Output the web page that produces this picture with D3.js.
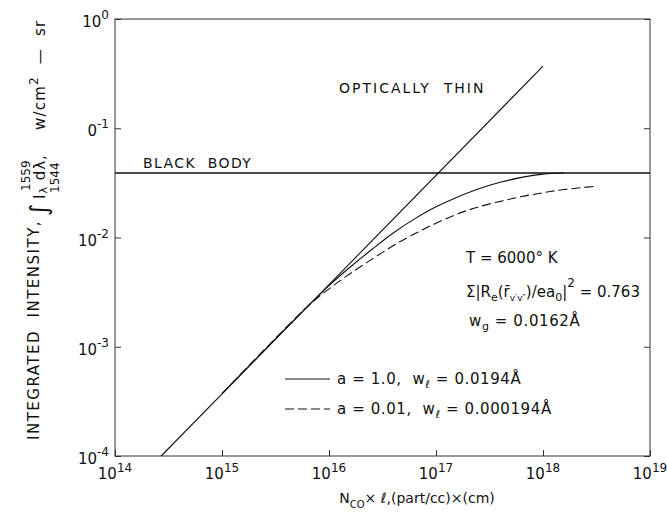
<!DOCTYPE html>
<html>
<head>
<meta charset="utf-8">
<script src="https://cdn.jsdelivr.net/npm/d3@7"></script>
<style>
  body { margin: 0; background: #fff; }
  svg { font-family: "DejaVu Sans", sans-serif; }
  text { white-space: pre; fill: #111; }
</style>
</head>
<body>
<div id="chart"></div>
<script>
// axis ticks (decades)
const xTicks = [1e14, 1e15, 1e16, 1e17, 1e18, 1e19];
const xTickExp = ["14", "15", "16", "17", "18", "19"];
const yTicks = [1e0, 1e-1, 1e-2, 1e-3, 1e-4];
const yTickExp = ["0", "-1", "-2", "-3", "-4"];

// optically thin asymptote
const thinN = [2.7e14, 1e18];
const thinI = [1e-4, 0.37];

// black body limit
const bbN = [1e14, 1e19];
const bbI = [0.039, 0.039];

// a = 1.0 (solid)
const solidN = [1e15, 6.31e15, 1e16, 1.58e16, 2.51e16, 3.98e16, 6.31e16, 1e17, 1.58e17, 2.51e17, 3.98e17, 6.31e17, 1e18, 1.58e18];
const solidI = [3.72e-4, 2.34e-3, 3.63e-3, 5.37e-3, 7.76e-3, 1.10e-2, 1.48e-2, 1.91e-2, 2.34e-2, 2.79e-2, 3.20e-2, 3.55e-2, 3.80e-2, 3.89e-2];

// a = 0.01 (dashed)
const dashN = [1e15, 6.31e15, 1e16, 1.58e16, 2.51e16, 3.98e16, 6.31e16, 1e17, 1.58e17, 2.51e17, 3.98e17, 6.31e17, 1e18, 1.58e18, 3.16e18];
const dashI = [3.72e-4, 2.34e-3, 3.39e-3, 4.68e-3, 6.31e-3, 8.41e-3, 1.08e-2, 1.35e-2, 1.64e-2, 1.91e-2, 2.14e-2, 2.37e-2, 2.57e-2, 2.75e-2, 2.95e-2];

var margin = {top: 19, right: 17, bottom: 59, left: 115},
    W = 667, H = 515,
    width = W - margin.left - margin.right,
    height = H - margin.top - margin.bottom;

var root = d3.select("#chart").append("svg")
  .attr("width", W).attr("height", H);

var svg = root.append("g")
  .attr("transform", "translate(" + margin.left + "," + margin.top + ")");

var x = d3.scaleLog().domain([1e14, 1e19]).range([0, width]);
var y = d3.scaleLog().domain([1e-4, 1e0]).range([height, 0]);

function zip(a, b) {
  return a.map(function(v, i) { return [v, b[i]]; });
}

// frame
svg.append("rect")
  .attr("width", width).attr("height", height)
  .attr("fill", "none").attr("stroke", "#333").attr("stroke-width", 1);

// inward ticks
svg.append("g").attr("transform", `translate(0, ${height})`)
  .call(d3.axisBottom(x).tickValues(xTicks).tickSize(-6).tickFormat(""))
  .call(g => g.select(".domain").remove());
svg.append("g")
  .call(d3.axisLeft(y).tickValues(yTicks).tickSize(-6).tickFormat(""))
  .call(g => g.select(".domain").remove());
svg.append("g").attr("transform", `translate(${width}, 0)`)
  .call(d3.axisRight(y).tickValues(yTicks).tickSize(-6).tickFormat(""))
  .call(g => g.select(".domain").remove());
svg.selectAll(".tick line").attr("stroke", "#333");

// tick labels
xTicks.forEach(function(v, i) {
  var t = svg.append("text")
    .attr("x", x(v)).attr("y", height + 23)
    .attr("text-anchor", "middle")
    .style("font-size", "15px");
  t.append("tspan").text("10");
  t.append("tspan").attr("dy", -7).style("font-size", "12px").text(xTickExp[i]);
});
yTicks.forEach(function(v, i) {
  var t = svg.append("text")
    .attr("x", -6).attr("y", y(v) + 8)
    .attr("text-anchor", "end")
    .style("font-size", "15px");
  t.append("tspan").text(i == 1 ? "0" : "10");
  t.append("tspan").attr("dy", -8).style("font-size", "12px").text(yTickExp[i]);
});

var line = d3.line()
  .x(d => x(d[0]))
  .y(d => y(d[1]));

var smooth = d3.line()
  .x(d => x(d[0]))
  .y(d => y(d[1]))
  .curve(d3.curveCatmullRom);

svg.append("path").datum(zip(bbN, bbI))
  .attr("d", line).attr("fill", "none")
  .attr("stroke", "#111").attr("stroke-width", 1.6);

svg.append("path").datum(zip(thinN, thinI))
  .attr("d", line).attr("fill", "none")
  .attr("stroke", "#111").attr("stroke-width", 1.1);

svg.append("path").datum(zip(solidN, solidI))
  .attr("d", smooth).attr("fill", "none")
  .attr("stroke", "#111").attr("stroke-width", 1.1);

svg.append("path").datum(zip(dashN, dashI))
  .attr("d", smooth).attr("fill", "none")
  .attr("stroke", "#111").attr("stroke-width", 1.1)
  .attr("stroke-dasharray", "9,4");

// labels in the plot
root.append("text").attr("x", 339).attr("y", 93)
  .style("font-size", "14px").style("letter-spacing", "2px")
  .text("OPTICALLY  THIN");
root.append("text").attr("x", 143).attr("y", 168)
  .style("font-size", "14px").style("letter-spacing", "1.4px")
  .text("BLACK  BODY");

root.append("text").attr("x", 466).attr("y", 263)
  .style("font-size", "15px").text("T = 6000° K");

var s = root.append("text").attr("x", 466).attr("y", 297).style("font-size", "15px");
s.append("tspan").text("Σ|R");
s.append("tspan").attr("dy", 4).style("font-size", "11px").text("e");
s.append("tspan").attr("dy", -4).text("(r̄");
s.append("tspan").attr("dy", 4).style("font-size", "9px").text("v′v″");
s.append("tspan").attr("dy", -4).text(")/ea");
s.append("tspan").attr("dy", 4).style("font-size", "11px").text("0");
s.append("tspan").attr("dy", -4).text("|");
s.append("tspan").attr("dy", -10).style("font-size", "12px").text("2");
s.append("tspan").attr("dy", 10).text(" = 0.763");

var wg = root.append("text").attr("x", 469).attr("y", 326)
  .style("font-size", "15px").style("letter-spacing", "0.6px");
wg.append("tspan").text("w");
wg.append("tspan").attr("dy", 4).style("font-size", "11px").text("g");
wg.append("tspan").attr("dy", -4).text(" = 0.0162Å");

// legend
const legendRows = [
  {dash: null, a: "a = 1.0,  w", w: "= 0.0194Å", y: 384},
  {dash: "9,4", a: "a = 0.01,  w", w: "= 0.000194Å", y: 414}
];
legendRows.forEach(function(r) {
  root.append("line")
    .attr("x1", 285).attr("x2", 330).attr("y1", r.y - 5).attr("y2", r.y - 5)
    .attr("stroke", "#111").attr("stroke-width", 1.1)
    .attr("stroke-dasharray", r.dash);
  var t = root.append("text").attr("x", 337).attr("y", r.y)
    .style("font-size", "15px").style("letter-spacing", "0.6px");
  t.append("tspan").text(r.a);
  t.append("tspan").attr("dy", 4).style("font-size", "11px").text("ℓ");
  t.append("tspan").attr("dy", -4).text(" " + r.w);
});

// x axis title
var xt = root.append("text").attr("x", 417).attr("y", 503)
  .attr("text-anchor", "middle").style("font-size", "14px");
xt.append("tspan").text("N");
xt.append("tspan").attr("dy", 5).style("font-size", "10px").text("CO");
xt.append("tspan").attr("dy", -5).text("× ℓ,(part/cc)×(cm)");

// y axis title (rotated)
var yl = root.append("g").attr("transform", "rotate(-90)");
yl.append("text").attr("x", -440).attr("y", 39)
  .style("font-size", "15px").style("letter-spacing", "1.5px")
  .text("INTEGRATED  INTENSITY,");
yl.append("text").attr("x", -216).attr("y", 47)
  .style("font-size", "24px").text("∫");
yl.append("text").attr("x", -191).attr("y", 30)
  .style("font-size", "12px").text("1559");
yl.append("text").attr("x", -193).attr("y", 59)
  .style("font-size", "12px").text("1544");
var il = yl.append("text").attr("x", -199).attr("y", 45)
  .style("font-size", "15px").style("letter-spacing", "1px");
il.append("tspan").text("I");
il.append("tspan").attr("dy", 2).style("font-size", "11px").text("λ");
il.append("tspan").attr("dy", -2).text(" dλ,");
var un = yl.append("text").attr("x", -130).attr("y", 45)
  .style("font-size", "15px").style("letter-spacing", "1.2px");
un.append("tspan").text("w/cm");
un.append("tspan").attr("dy", -7).style("font-size", "12px").text("2");
un.append("tspan").attr("dy", 7).text("  —  sr");
</script>
</body>
</html>
